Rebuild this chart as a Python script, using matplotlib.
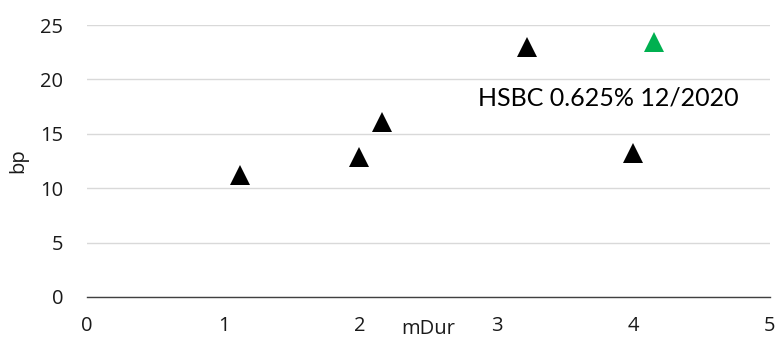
import matplotlib
matplotlib.use("Agg")
import matplotlib.pyplot as plt

# modified duration (years) vs spread (bp)
mdur = [1.12, 1.99, 2.16, 3.22, 4.00]
spread = [11.2, 12.85, 16.1, 22.95, 13.2]
hsbc_mdur = [4.15]
hsbc_spread = [23.4]
hsbc_label = "HSBC 0.625% 12/2020"

xticks = [0, 1, 2, 3, 4, 5]
yticks = [0, 5, 10, 15, 20, 25]

plt.rcParams["font.family"] = ["Open Sans", "DejaVu Sans"]

fig = plt.figure(figsize=(7.78, 3.39), dpi=100)
ax = fig.add_axes([0.1118, 0.1239, 0.8779, 0.8021])

ax.plot(mdur, spread, linestyle="none", marker="^", markersize=14.5,
        markeredgewidth=0, color="black", zorder=3)
ax.plot(hsbc_mdur, hsbc_spread, linestyle="none", marker="^", markersize=14.5,
        markeredgewidth=0, color="#00B050", zorder=3)
ax.text(2.86, 18.3, hsbc_label, ha="left", va="center", fontsize=18,
        color="black", family=["Lato", "DejaVu Sans"])

ax.set_xlim(0, 5)
ax.set_ylim(0, 25)
ax.set_xticks(xticks)
ax.set_yticks(yticks)
ax.tick_params(axis="both", length=0, labelsize=14.5, colors="#1a1a1a")
ax.tick_params(axis="x", pad=14)
ax.tick_params(axis="y", pad=17)

ax.grid(axis="y", color="#d9d9d9", linewidth=1)
ax.set_axisbelow(True)
for side in ["left", "right", "top"]:
    ax.spines[side].set_visible(False)
ax.spines["bottom"].set_color("#404040")
ax.spines["bottom"].set_linewidth(1)

ax.set_xlabel("mDur", fontsize=14.5, color="#1a1a1a")
ax.xaxis.set_label_coords(0.5, -0.08)
ax.set_ylabel("bp", fontsize=14.5, color="#1a1a1a")
ax.yaxis.set_label_coords(-0.086, 0.5)

fig.savefig("out.png", dpi=100)
